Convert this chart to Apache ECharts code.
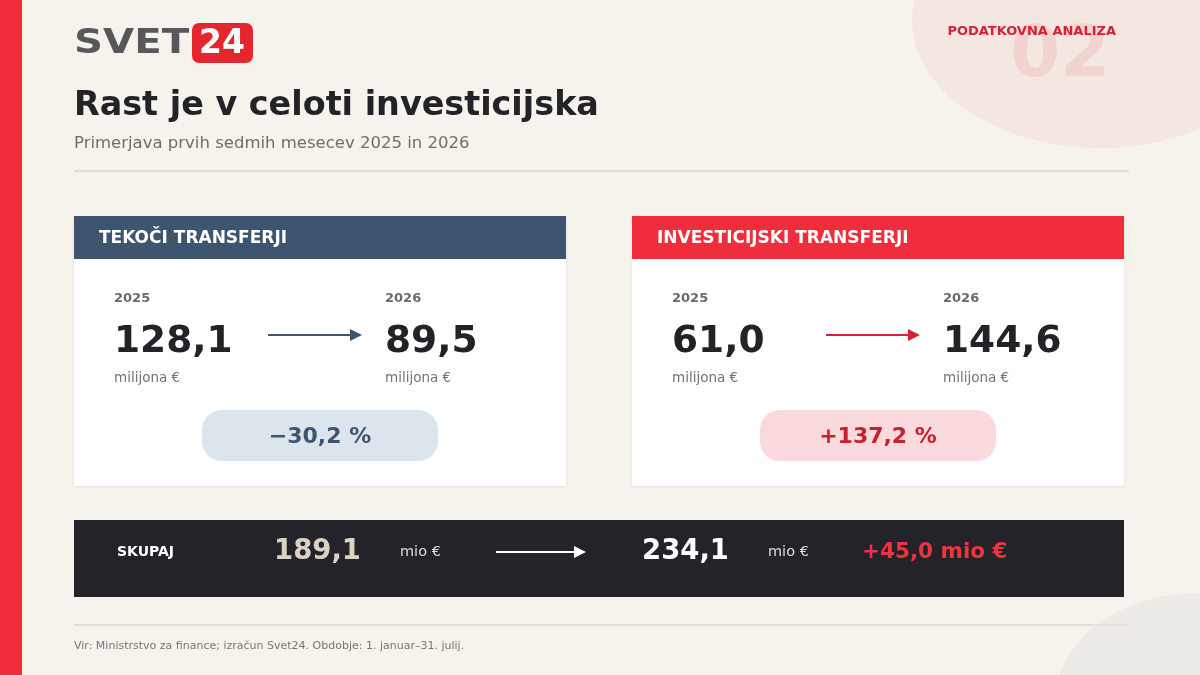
<!DOCTYPE html>
<html>
<head>
<meta charset="utf-8">
<script src="https://cdn.jsdelivr.net/npm/echarts@6/dist/echarts.min.js"></script>
<style>
html,body{margin:0;padding:0;background:#f6f3ed;}
#c{width:1200px;height:675px;}
</style>
</head>
<body>
<div id="c"></div>
<script>
// ---- data ----
var categories = ['TEKOČI TRANSFERJI', 'INVESTICIJSKI TRANSFERJI'];
var years = ['2025', '2026'];
var values2025 = ['128,1', '61,0'];
var values2026 = ['89,5', '144,6'];
var changes = ['\u221230,2 %', '+137,2 %'];
var unitLabel = 'milijona €';
var totalLabel = 'SKUPAJ';
var totals = ['189,1', '234,1'];
var totalUnit = 'mio €';
var totalChange = '+45,0 mio €';
var titleText = 'Rast je v celoti investicijska';
var subtitleText = 'Primerjava prvih sedmih mesecev 2025 in 2026';
var sourceText = 'Vir: Ministrstvo za finance; izračun Svet24. Obdobje: 1. januar–31. julij.';
var kicker = 'PODATKOVNA ANALIZA';
var kickerNum = '02';

// ---- styles ----
var FONT = 'DejaVu Sans';
var headColors = ['#3e5570', '#ef2d3d'];
var arrowColors = ['#3e5570', '#d42234'];
var pillFill = ['#dde5ec', '#fadadc'];
var pillText = ['#3e5570', '#c8202f'];
var DY = 2; // text baseline nudge

var chart = echarts.init(document.getElementById('c'), null, {renderer: 'canvas'});
var els = [];

function txt(x, y, text, size, color, weight, align, vAlign, extra) {
  var e = {
    type: 'text', x: x, y: y + DY, silent: true,
    style: {
      x: 0, y: 0, text: text, fontFamily: FONT, fontSize: size,
      fontWeight: weight || 'normal', fill: color,
      align: align || 'left', verticalAlign: vAlign || 'middle'
    }
  };
  if (extra) for (var k in extra) e[k] = extra[k];
  return e;
}
function rect(x, y, w, h, fill, r, extra) {
  var e = {type: 'rect', silent: true, shape: {x: x, y: y, width: w, height: h, r: r || 0}, style: {fill: fill}};
  if (extra) for (var k in extra) e.style[k] = extra[k];
  return e;
}
function arrow(x1, x2, y, color) {
  return [
    {type: 'line', silent: true, shape: {x1: x1, y1: y, x2: x2 - 10, y2: y}, style: {stroke: color, lineWidth: 2}},
    {type: 'polygon', silent: true, shape: {points: [[x2 - 12, y - 6], [x2, y], [x2 - 12, y + 6]]}, style: {fill: color}}
  ];
}

// decorative shapes
els.push({type: 'ellipse', silent: true, shape: {cx: 1100, cy: 20, rx: 188, ry: 128}, style: {fill: '#f4e7e1'}});
els.push({type: 'ellipse', silent: true, shape: {cx: 1198, cy: 702, rx: 143, ry: 109}, style: {fill: '#edebe5'}});
els.push(rect(0, 0, 22, 675, '#ef2d3d'));

// kicker
els.push(txt(1060, 55, kickerNum, 72, '#f3d3d0', 'bold', 'center', 'middle'));
els.push(txt(1116, 30, kicker, 13, '#d42234', 'bold', 'right', 'middle'));

// logo
els.push(txt(74, 42, 'SVET', 33, '#58585b', 'bold', 'left', 'middle', {scaleX: 1.22}));
els.push(rect(192, 23, 61, 40, '#e4262f', 7));
els.push(txt(222, 42, '24', 33, '#ffffff', 'bold', 'center', 'middle', {scaleX: 1.0}));

// title
els.push(txt(74, 104, titleText, 33.4, '#232227', 'bold', 'left', 'middle'));
els.push(txt(74, 142, subtitleText, 16.5, '#6f6d6b', 'normal', 'left', 'middle'));
els.push(rect(74, 170, 1055, 2, '#e0ddd6'));

// cards
var cardX = [74, 632];
for (var i = 0; i < categories.length; i++) {
  var cx = cardX[i];
  els.push(rect(cx, 216, 492, 270, '#ffffff', 0, {shadowBlur: 3, shadowColor: 'rgba(0,0,0,0.08)', shadowOffsetY: 1}));
  els.push(rect(cx, 216, 492, 43, headColors[i]));
  els.push(txt(cx + 25, 237, categories[i], 17, '#ffffff', 'bold', 'left', 'middle'));
  var vals = [values2025[i], values2026[i]];
  var colX = [cx + 40, cx + 311];
  for (var j = 0; j < 2; j++) {
    els.push(txt(colX[j], 297, years[j], 13, '#6a6a6a', 'bold', 'left', 'middle'));
    els.push(txt(colX[j], 340, vals[j], 37.5, '#232227', 'bold', 'left', 'middle'));
    els.push(txt(colX[j], 376, unitLabel, 13.5, '#757372', 'normal', 'left', 'middle'));
  }
  arrow(cx + 194, cx + 288, 335, arrowColors[i]).forEach(function (a) { els.push(a); });
  els.push(rect(cx + 128, 410, 236, 51, pillFill[i], 20));
  els.push(txt(cx + 246, 435, changes[i], 22, pillText[i], 'bold', 'center', 'middle'));
}

// totals bar
els.push(rect(74, 520, 1050, 77, '#242329'));
els.push(txt(117, 550, totalLabel, 14, '#ffffff', 'bold', 'left', 'middle'));
els.push(txt(274, 550, totals[0], 27.5, '#dcd2c3', 'bold', 'left', 'middle'));
els.push(txt(400, 550, totalUnit, 14.5, '#dddddd', 'normal', 'left', 'middle'));
arrow(496, 586, 552, '#ffffff').forEach(function (a) { els.push(a); });
els.push(txt(642, 550, totals[1], 27.5, '#ffffff', 'bold', 'left', 'middle'));
els.push(txt(768, 550, totalUnit, 14.5, '#dddddd', 'normal', 'left', 'middle'));
els.push(txt(862, 550, totalChange, 21.5, '#ef3340', 'bold', 'left', 'middle'));

// footer
els.push(rect(74, 624, 1055, 2, '#e3e0d9'));
els.push(txt(74, 644, sourceText, 11, '#777574', 'normal', 'left', 'middle'));

chart.setOption({
  backgroundColor: '#f6f3ed',
  animation: false,
  graphic: {elements: els}
});
</script>
</body>
</html>
